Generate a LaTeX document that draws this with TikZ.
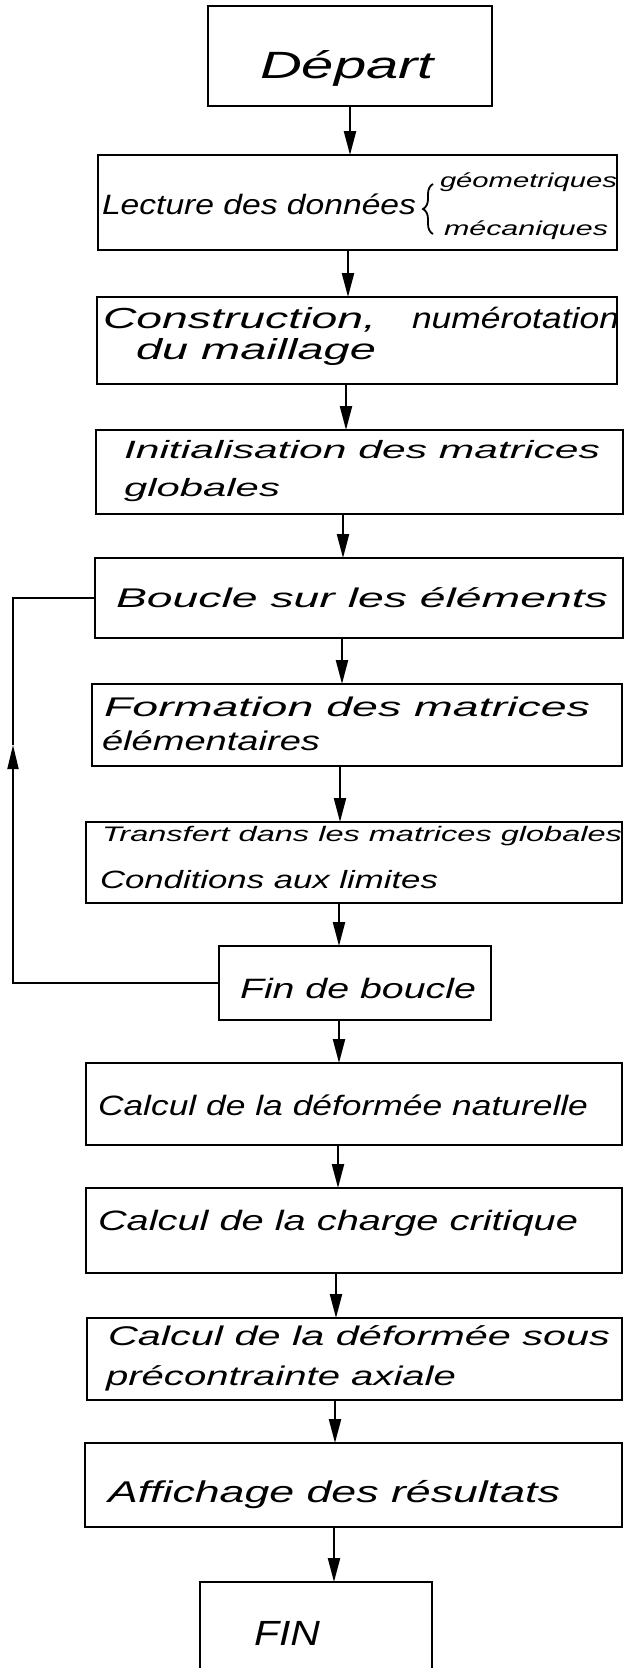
\documentclass[tikz,border=0pt]{standalone}
\usepackage{fontspec}
\setmainfont{Liberation Sans}
\usepackage{graphicx}
\usetikzlibrary{arrows.meta,decorations.pathreplacing}
\newcommand{\fitline}[3]{\resizebox{#1pt}{\height}{\fontsize{#2pt}{#2pt}\selectfont\itshape #3}}
\begin{document}
\begin{tikzpicture}[x=1pt,y=-1pt,
  box/.style={draw, line width=2.6pt, inner sep=0pt, outer sep=0pt},
  txt/.style={inner sep=0pt, outer sep=0pt, anchor=base west},
  arr/.style={line width=2.2pt, -{Triangle[length=24pt,width=12pt]}},
  loopline/.style={line width=1.8pt},
  bracestyle/.style={line width=1.8pt, decorate, decoration={brace, amplitude=10pt}}
]
\fill[white] (0,0) rectangle (625,1668);
\useasboundingbox (0,0) rectangle (625,1668);

% boxes
\node[box, minimum width=284pt, minimum height=100pt] (dep) at (350,56) {};
\node[box, minimum width=519pt, minimum height=95pt] (lec) at (357.5,202.5) {};
\node[box, minimum width=520pt, minimum height=87pt] (con) at (357,340.5) {};
\node[box, minimum width=527pt, minimum height=84pt] (ini) at (359.5,472) {};
\node[box, minimum width=528pt, minimum height=80pt] (bou) at (359,598) {};
\node[box, minimum width=530pt, minimum height=82pt] (frm) at (357,725) {};
\node[box, minimum width=536pt, minimum height=81pt] (tra) at (354,862.5) {};
\node[box, minimum width=272pt, minimum height=74pt] (fdb) at (355,983) {};
\node[box, minimum width=536pt, minimum height=82pt] (nat) at (354,1104) {};
\node[box, minimum width=536pt, minimum height=85pt] (cha) at (354,1230.5) {};
\node[box, minimum width=535pt, minimum height=82pt] (pre) at (354.5,1359) {};
\node[box, minimum width=537pt, minimum height=84pt] (aff) at (353.5,1485) {};
\node[box, minimum width=232pt, minimum height=92pt] (fin) at (316,1628) {};

% texts
\node[txt] (t1) at (260,78) {\fitline{174}{38}{Départ}};
\node[txt] (t2a) at (102,214) {\fitline{314}{28}{Lecture des données}};
\node[txt] (t2b) at (440,187) {\fitline{177}{20}{géometriques}};
\node[txt] (t2c) at (444,235) {\fitline{164}{20}{mécaniques}};
\coordinate (br1) at (433,234);
\coordinate (br2) at (433,184);
\draw[bracestyle] (br1) -- (br2);
\node[txt] (t3a) at (103,328) {\fitline{273}{29}{Construction,}};
\node[txt] (t3b) at (412,328) {\fitline{207}{29}{numérotation}};
\node[txt] (t3c) at (136,359) {\fitline{240}{29}{du maillage}};
\node[txt] (t4a) at (124,458) {\fitline{476}{25}{Initialisation des matrices}};
\node[txt] (t4b) at (124,496) {\fitline{156}{25}{globales}};
\node[txt] (t5) at (116,607) {\fitline{492}{27}{Boucle sur les éléments}};
\node[txt] (t6a) at (104,716) {\fitline{486}{27}{Formation des matrices}};
\node[txt] (t6b) at (102,750) {\fitline{218}{27}{élémentaires}};
\node[txt] (t7a) at (102,841) {\fitline{520}{21}{Transfert dans les matrices globales}};
\node[txt] (t7b) at (100,888) {\fitline{338}{25}{Conditions aux limites}};
\node[txt] (t8) at (240,998) {\fitline{236}{28}{Fin de boucle}};
\node[txt] (t9) at (98,1115) {\fitline{490}{28}{Calcul de la déformée naturelle}};
\node[txt] (t10) at (98,1230) {\fitline{480}{28}{Calcul de la charge critique}};
\node[txt] (t11a) at (108,1345) {\fitline{502}{27}{Calcul de la déformée sous}};
\node[txt] (t11b) at (106,1385) {\fitline{350}{27}{précontrainte axiale}};
\node[txt] (t12) at (108,1502) {\fitline{452}{30}{Affichage des résultats}};
\node[txt] (t13) at (254,1645) {\fitline{66}{35}{FIN}};

% connector columns
\coordinate (c1) at (350,0);
\coordinate (c2) at (348,0);
\coordinate (c3) at (346,0);
\coordinate (c4) at (343,0);
\coordinate (c5) at (342,0);
\coordinate (c6) at (340,0);
\coordinate (c7) at (339,0);
\coordinate (c8) at (339,0);
\coordinate (c9) at (338,0);
\coordinate (c10) at (336,0);
\coordinate (c11) at (335,0);
\coordinate (c12) at (334,0);

\draw[arr] (dep.south -| c1) -- (lec.north -| c1);
\draw[arr] (lec.south -| c2) -- (con.north -| c2);
\draw[arr] (con.south -| c3) -- (ini.north -| c3);
\draw[arr] (ini.south -| c4) -- (bou.north -| c4);
\draw[arr] (bou.south -| c5) -- (frm.north -| c5);
\draw[arr] (frm.south -| c6) -- (tra.north -| c6);
\draw[arr] (tra.south -| c7) -- (fdb.north -| c7);
\draw[arr] (fdb.south -| c8) -- (nat.north -| c8);
\draw[arr] (nat.south -| c9) -- (cha.north -| c9);
\draw[arr] (cha.south -| c10) -- (pre.north -| c10);
\draw[arr] (pre.south -| c11) -- (aff.north -| c11);
\draw[arr] (aff.south -| c12) -- (fin.north -| c12);

% loop back
\coordinate (lx) at (13,0);
\coordinate (la) at (13,745);
\draw[loopline] (bou.west) -- (bou.west -| lx) -- (la);
\draw[loopline, -{Triangle[length=24pt,width=11pt]}] (fdb.west) -- (fdb.west -| lx) -- (la);
\end{tikzpicture}
\end{document}
